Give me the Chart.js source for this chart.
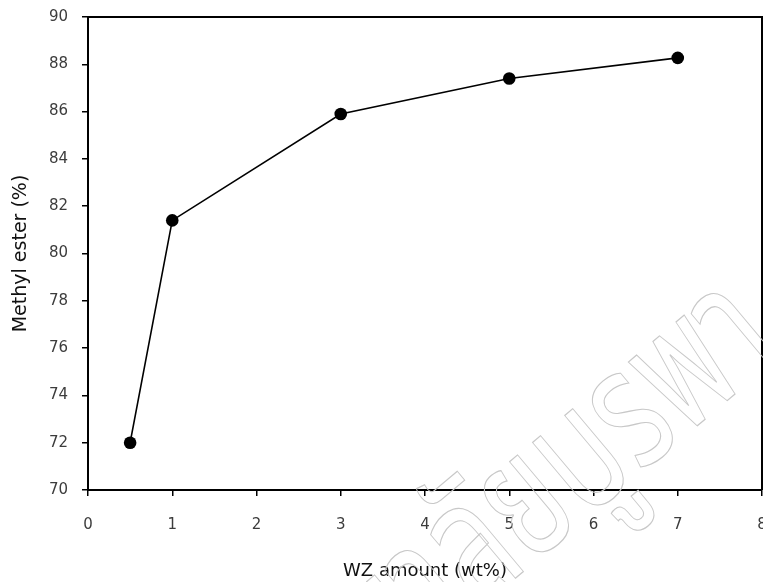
<!DOCTYPE html>
<html>
<head>
<meta charset="utf-8">
<script src="https://cdn.jsdelivr.net/npm/chart.js@4.4.1/dist/chart.umd.min.js"></script>
<style>
  html, body { margin: 0; padding: 0; background: #fff; }
  #wrap { width: 763px; height: 582px; position: relative; }
</style>
</head>
<body>
<div id="wrap"><canvas id="grafico"></canvas></div>
<script>
// valores
const wzAmount = [0.5, 1, 3, 5, 7];
const methylEster = [72.0, 81.4, 85.9, 87.4, 88.27];
const xTicks = [0, 1, 2, 3, 4, 5, 6, 7, 8];
const yTicks = [70, 72, 74, 76, 78, 80, 82, 84, 86, 88, 90];
const xTitle = "WZ amount (wt%)";
const yTitle = "Methyl ester (%)";
const watermark = "มหาวิทยาลัยบูรพา";

const puntos = wzAmount.map((x, i) => ({ x: x, y: methylEster[i] }));

// marco superior/derecho y marca de agua
const marco = {
  id: "marco",
  afterDatasetsDraw(chart) {
    const { ctx, chartArea: a } = chart;
    ctx.save();
    ctx.strokeStyle = "#000";
    ctx.lineWidth = 2;
    ctx.beginPath();
    ctx.moveTo(a.left, a.top);
    ctx.lineTo(a.right, a.top);
    ctx.lineTo(a.right, a.bottom);
    ctx.stroke();
    ctx.restore();
  },
  afterDraw(chart) {
    const ctx = chart.ctx;
    ctx.save();
    ctx.font = "170px 'Noto Sans Thai', 'Noto Sans', sans-serif";
    ctx.strokeStyle = "#c8c8c8";
    ctx.lineWidth = 1.2;
    ctx.translate(585, 520);
    ctx.rotate(-40 * Math.PI / 180);
    ctx.scale(0.7, 1);
    const antes = ctx.measureText("มหาวิทยาลัย").width;
    ctx.textAlign = "left";
    ctx.textBaseline = "alphabetic";
    ctx.strokeText(watermark, -antes, 0);
    ctx.restore();
  }
};

const sinPadding = () => ({ left: 0, top: 0, right: 0, bottom: 0 });

new Chart(document.getElementById("grafico"), {
  type: "scatter",
  data: {
    datasets: [{
      data: puntos,
      showLine: true,
      borderColor: "#000",
      borderWidth: 1.6,
      backgroundColor: "#000",
      pointRadius: 6.3,
      pointHoverRadius: 6.3,
      pointBorderWidth: 0,
      tension: 0,
      clip: false
    }]
  },
  options: {
    responsive: true,
    maintainAspectRatio: false,
    animation: false,
    layout: { autoPadding: false, padding: { top: 17, right: 1, left: 0, bottom: 0 } },
    plugins: {
      legend: { display: false },
      tooltip: { enabled: false }
    },
    scales: {
      x: {
        type: "linear",
        min: 0,
        max: 8,
        afterBuildTicks: s => { s.ticks = xTicks.map(v => ({ value: v })); },
        afterFit: s => {
          s.height = 92;
          s.paddingLeft = 0;
          s.paddingRight = 0;
          s.getPadding = sinPadding;
        },
        border: { display: true, color: "#000", width: 2 },
        grid: { drawOnChartArea: false, drawTicks: true, tickLength: 6, color: "#000", lineWidth: 1.5 },
        ticks: {
          padding: 20,
          maxRotation: 0,
          autoSkip: false,
          color: "#3c3c3c",
          font: { family: "'DejaVu Sans'", size: 15 }
        },
        title: {
          display: true,
          text: xTitle,
          color: "#111",
          font: { family: "'DejaVu Sans'", size: 18 },
          padding: { top: 0, bottom: 0 }
        }
      },
      y: {
        type: "linear",
        min: 70,
        max: 90,
        afterBuildTicks: s => { s.ticks = yTicks.map(v => ({ value: v })); },
        afterFit: s => {
          s.width = 88;
          s.paddingTop = 0;
          s.paddingBottom = 0;
          s.getPadding = sinPadding;
        },
        border: { display: true, color: "#000", width: 2 },
        grid: { drawOnChartArea: false, drawTicks: true, tickLength: 6, color: "#000", lineWidth: 1.5 },
        ticks: {
          padding: 14,
          autoSkip: false,
          color: "#3c3c3c",
          font: { family: "'DejaVu Sans'", size: 15 }
        },
        title: {
          display: true,
          text: yTitle,
          color: "#111",
          font: { family: "'DejaVu Sans'", size: 19 },
          padding: { top: 10, bottom: 0 }
        }
      }
    }
  },
  plugins: [marco]
});
</script>
</body>
</html>
